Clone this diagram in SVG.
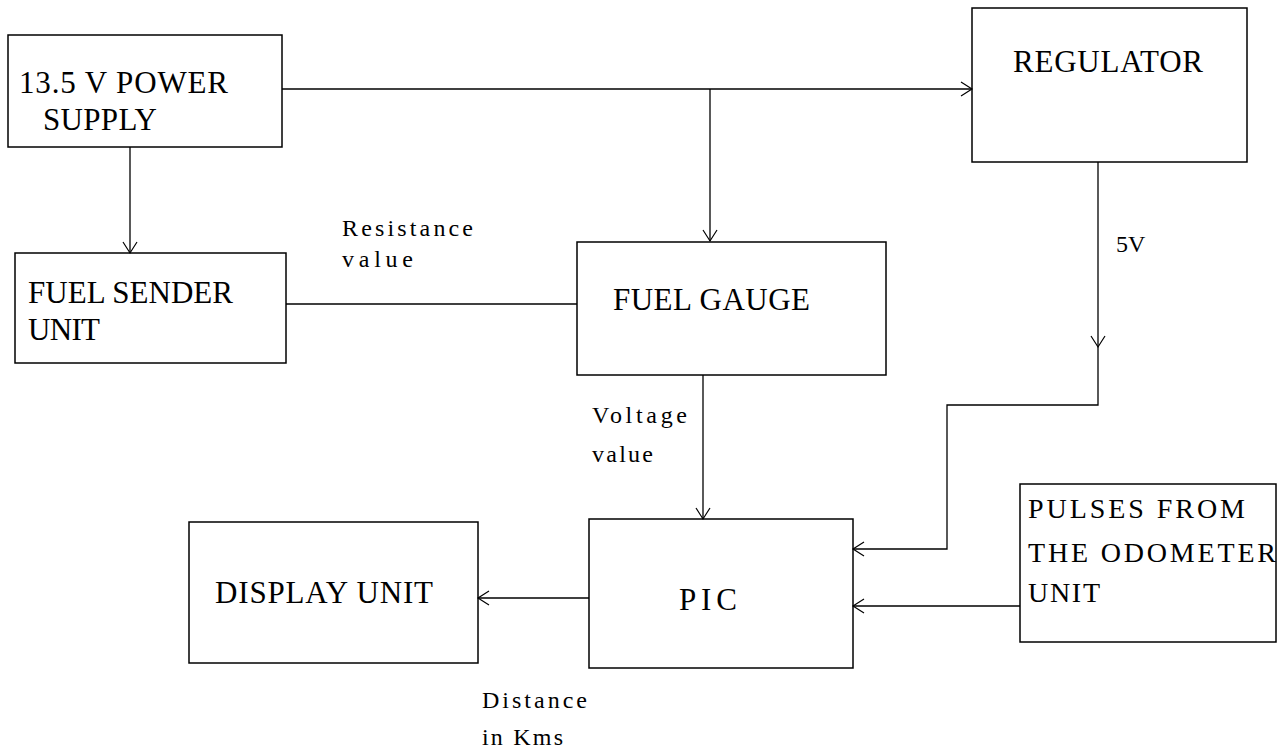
<svg xmlns="http://www.w3.org/2000/svg" width="1278" height="751" viewBox="0 0 1278 751">
<style>
.box{fill:none;stroke:#000;stroke-width:1.5}
.ln{fill:none;stroke:#000;stroke-width:1.3}
.big{font-family:"Liberation Serif","Times New Roman",serif;font-size:31px;fill:#000}
.odo{font-family:"Liberation Serif","Times New Roman",serif;font-size:28px;fill:#000}
.sm{font-family:"Liberation Serif","Times New Roman",serif;font-size:24px;fill:#000}
</style>
<defs>
<marker id="arr" markerUnits="userSpaceOnUse" markerWidth="16" markerHeight="16" viewBox="0 0 16 16" refX="13" refY="8" orient="auto">
<path d="M2,1 L13,8 L2,15" fill="none" stroke="#000" stroke-width="1.2"/>
</marker>
</defs>
<rect width="1278" height="751" fill="#fff"/>
<g id="connectors">
<path class="ln" d="M282,89 L972,89" marker-end="url(#arr)"/>
<path class="ln" d="M710,89 L710,241" marker-end="url(#arr)"/>
<path class="ln" d="M130,147 L130,253" marker-end="url(#arr)"/>
<path class="ln" d="M286,304 L577,304"/>
<path class="ln" d="M1098,162 L1098,347" marker-end="url(#arr)"/>
<path class="ln" d="M1098,347 L1098,405 L947,405 L947,549 L853,549" marker-end="url(#arr)"/>
<path class="ln" d="M703,375 L703,519" marker-end="url(#arr)"/>
<path class="ln" d="M589,598 L478,598" marker-end="url(#arr)"/>
<path class="ln" d="M1020,606 L853,606" marker-end="url(#arr)"/>
</g>
<g id="power-supply">
<rect class="box" x="8" y="35" width="274" height="112"/>
<text class="big" x="19" y="93" textLength="209" lengthAdjust="spacing">13.5 V POWER</text>
<text class="big" x="43" y="130" textLength="114" lengthAdjust="spacing">SUPPLY</text>
</g>
<g id="regulator">
<rect class="box" x="972" y="8" width="275" height="154"/>
<text class="big" x="1013" y="72" textLength="190" lengthAdjust="spacing">REGULATOR</text>
</g>
<g id="fuel-sender">
<rect class="box" x="15" y="253" width="271" height="110"/>
<text class="big" x="28" y="303" textLength="205" lengthAdjust="spacing">FUEL SENDER</text>
<text class="big" x="28" y="340" textLength="72" lengthAdjust="spacing">UNIT</text>
</g>
<g id="fuel-gauge">
<rect class="box" x="577" y="242" width="309" height="133"/>
<text class="big" x="613" y="310" textLength="197" lengthAdjust="spacing">FUEL GAUGE</text>
</g>
<g id="pic">
<rect class="box" x="589" y="519" width="264" height="149"/>
<text class="big" x="679" y="610" textLength="58" lengthAdjust="spacing">PIC</text>
</g>
<g id="display-unit">
<rect class="box" x="189" y="522" width="289" height="141"/>
<text class="big" x="215" y="603" textLength="218" lengthAdjust="spacing">DISPLAY UNIT</text>
</g>
<g id="odometer">
<rect class="box" x="1020" y="484" width="256" height="158"/>
<text class="odo" x="1028" y="518" textLength="217" lengthAdjust="spacing">PULSES FROM</text>
<text class="odo" x="1028" y="562" textLength="248" lengthAdjust="spacing">THE ODOMETER</text>
<text class="odo" x="1028" y="602" textLength="72" lengthAdjust="spacing">UNIT</text>
</g>
<g id="labels">
<text class="sm" x="342" y="236" textLength="131" lengthAdjust="spacing">Resistance</text>
<text class="sm" x="342" y="267" textLength="71" lengthAdjust="spacing">value</text>
<text class="sm" x="1116" y="252">5V</text>
<text class="sm" x="592" y="423" textLength="95" lengthAdjust="spacing">Voltage</text>
<text class="sm" x="592" y="462" textLength="61" lengthAdjust="spacing">value</text>
<text class="sm" x="482" y="708" textLength="105" lengthAdjust="spacing">Distance</text>
<text class="sm" x="482" y="745" textLength="81" lengthAdjust="spacing">in Kms</text>
</g>
</svg>
